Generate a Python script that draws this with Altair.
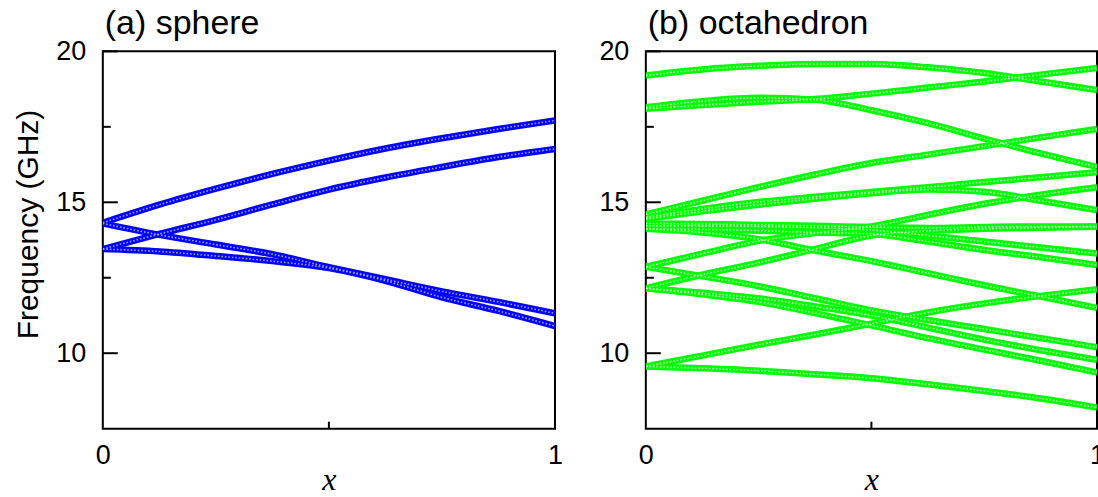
import altair as alt
import pandas as pd

X = [0, 0.125, 0.25, 0.375, 0.5, 0.625, 0.75, 0.875, 1.0]

# (a) sphere: frequency (GHz) of each branch
SPHERE = {
    "s1": [14.32, 14.92, 15.45, 15.94, 16.38, 16.78, 17.12, 17.43, 17.71],
    "s2": [13.45, 13.95, 14.42, 14.93, 15.42, 15.82, 16.17, 16.50, 16.77],
    "s3": [14.30, 13.92, 13.60, 13.28, 12.85, 12.45, 12.05, 11.70, 11.32],
    "s4": [13.45, 13.37, 13.22, 13.05, 12.82, 12.40, 11.85, 11.40, 10.90],
}

# (b) octahedron: frequency (GHz) of each branch
OCTA = {
    "o1": [19.20, 19.40, 19.52, 19.58, 19.58, 19.47, 19.28, 19.00, 18.72],
    "o2": [18.10, 18.22, 18.33, 18.42, 18.60, 18.80, 19.00, 19.23, 19.45],
    "o3": [18.15, 18.35, 18.46, 18.40, 18.05, 17.62, 17.11, 16.62, 16.17],
    "o4": [14.60, 15.05, 15.50, 15.92, 16.30, 16.58, 16.86, 17.15, 17.43],
    "o5": [14.50, 14.78, 15.01, 15.18, 15.34, 15.50, 15.67, 15.83, 16.00],
    "o6": [14.45, 14.70, 14.92, 15.12, 15.30, 15.42, 15.35, 15.05, 14.74],
    "o7": [12.86, 13.30, 13.72, 13.98, 14.20, 14.58, 14.95, 15.25, 15.50],
    "o8": [12.15, 12.60, 13.00, 13.45, 13.90, 14.05, 14.12, 14.16, 14.19],
    "o9": [14.30, 14.28, 14.25, 14.22, 14.18, 14.15, 14.18, 14.20, 14.20],
    "o10": [14.22, 14.22, 14.20, 14.16, 14.08, 13.90, 13.70, 13.50, 13.30],
    "o11": [14.12, 14.10, 14.06, 14.00, 13.95, 13.70, 13.42, 13.18, 12.92],
    "o12": [14.12, 14.00, 13.78, 13.40, 13.05, 12.65, 12.25, 11.88, 11.50],
    "o13": [12.86, 12.55, 12.22, 11.82, 11.42, 11.10, 10.80, 10.50, 10.20],
    "o14": [12.15, 12.00, 11.82, 11.55, 11.25, 10.85, 10.45, 10.10, 9.78],
    "o15": [12.15, 11.95, 11.70, 11.33, 10.92, 10.50, 10.12, 9.75, 9.36],
    "o16": [9.56, 9.92, 10.28, 10.62, 10.98, 11.35, 11.65, 11.90, 12.12],
    "o17": [9.56, 9.50, 9.42, 9.30, 9.17, 8.97, 8.75, 8.50, 8.20],
}

Y_MAJOR = [10, 15, 20]
Y_MINOR = [12.5, 17.5]
X_LABELS = [0, 1]
X_MINOR = [0.5]

H = 378
FONT = "Liberation Sans"


def to_long(curves):
    rows = []
    for name, ys in curves.items():
        for xv, yv in zip(X, ys):
            rows.append({"curve": name, "x": xv, "y": yv})
    return pd.DataFrame(rows)


def panel(curves, color, light, title, ytitle, width):
    df = to_long(curves)
    xs = alt.Scale(domain=[0, 1], nice=False)
    ys = alt.Scale(domain=[7.5, 20], nice=False, zero=False)

    yaxis_kw = dict(values=Y_MAJOR, ticks=False, domain=False, grid=False,
                    labelFont=FONT, labelFontSize=27, labelColor="black",
                    labelPadding=17, labelFlush=False)
    if ytitle:
        yaxis = alt.Axis(title=ytitle, titleFont=FONT, titleFontSize=30,
                         titleFontWeight="normal", titleColor="black",
                         titlePadding=12, titleY=173, **yaxis_kw)
    else:
        yaxis = alt.Axis(title=None, **yaxis_kw)
    xaxis = alt.Axis(values=X_LABELS, ticks=False, domain=False, grid=False,
                     labelFont=FONT, labelFontSize=27, labelColor="black",
                     labelPadding=14, labelFlush=False, format="d",
                     title="x", titleFont="Liberation Serif", titleFontSize=32,
                     titleFontStyle="italic", titleFontWeight="normal",
                     titleColor="black", titlePadding=-4)

    xenc = alt.X("x:Q", scale=xs, axis=xaxis)
    yenc = alt.Y("y:Q", scale=ys, axis=yaxis)

    base = alt.Chart(df).mark_line(
        strokeWidth=6.5, color=color, interpolate="monotone", clip=True
    ).encode(x=xenc, y=yenc, detail="curve:N")
    dots = alt.Chart(df).mark_line(
        strokeWidth=1.6, color=light, strokeDash=[1.6, 1.9],
        interpolate="monotone", clip=True
    ).encode(x=xenc, y=yenc, detail="curve:N")
    major = alt.Chart(pd.DataFrame({"y": Y_MAJOR})).mark_rule(
        color="black", strokeWidth=2
    ).encode(y=yenc, x=alt.value(0), x2=alt.value(15))
    minor = alt.Chart(pd.DataFrame({"y": Y_MINOR})).mark_rule(
        color="black", strokeWidth=2
    ).encode(y=yenc, x=alt.value(0), x2=alt.value(8))
    xminor = alt.Chart(pd.DataFrame({"x": X_MINOR})).mark_rule(
        color="black", strokeWidth=2
    ).encode(x=xenc, y=alt.value(H), y2=alt.value(H - 7))

    return alt.layer(base, dots, major, minor, xminor).properties(
        width=width, height=H,
        title=alt.TitleParams(text=title, anchor="start", frame="group",
                              font=FONT, fontSize=34, fontWeight="normal",
                              color="black", offset=-4, dx=2),
    )


left = panel(SPHERE, "#0000ff", "#9c9cff", "(a) sphere", "Frequency (GHz)", 453)
right = panel(OCTA, "#00ff00", "#bbffbb", "(b) octahedron", None, 452)

chart = alt.hconcat(left, right, spacing=33).properties(
    padding={"left": 12, "top": 6, "right": -8, "bottom": 0}
).configure(
    background="white",
    view=alt.ViewConfig(stroke="black", strokeWidth=2),
)

chart.save("out.html", embed_options={"renderer": "svg", "actions": False})
